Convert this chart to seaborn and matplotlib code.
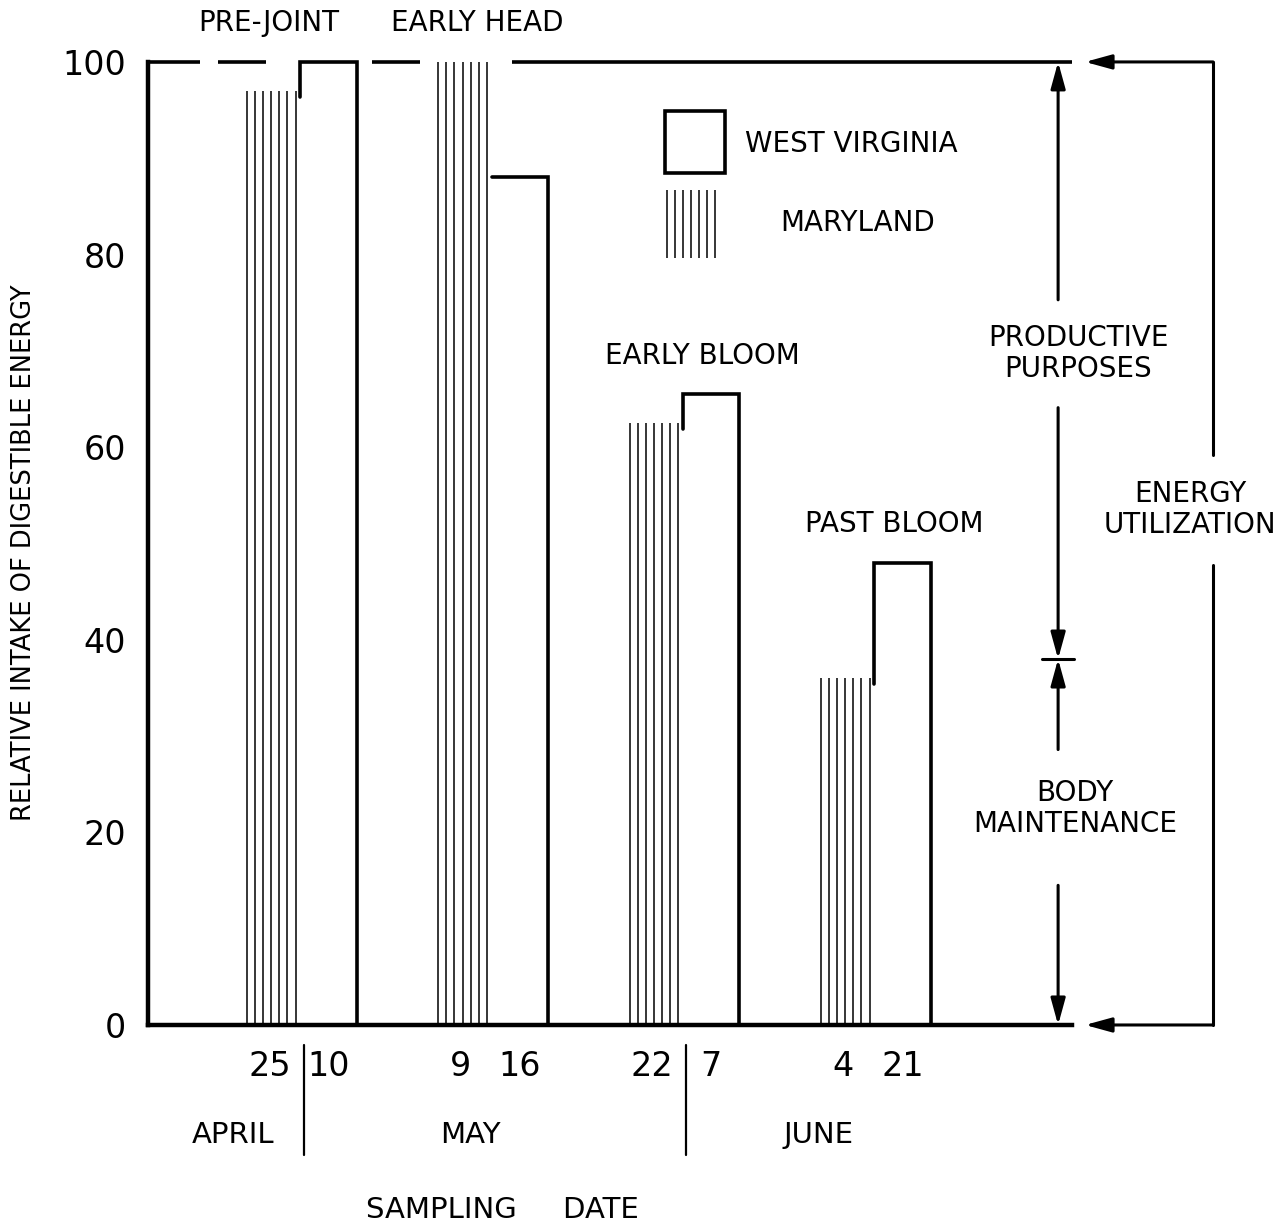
import numpy as np
import pandas as pd
import matplotlib
matplotlib.use("Agg")
import matplotlib.pyplot as plt
from matplotlib.patches import Rectangle
import seaborn as sns

# Values (relative intake of digestible energy)
stages = ["PRE-JOINT", "EARLY HEAD", "EARLY BLOOM", "PAST BLOOM"]
maryland = [97, 100, 62.5, 36]
west_virginia = [100, 88, 65.5, 48]
date_labels = ["25", "10", "9", "16", "22", "7", "4", "21"]  # MD, WV for each stage
months = ["APRIL", "MAY", "JUNE"]
maintenance_level = 38

df = pd.DataFrame({
    "stage": stages * 2,
    "state": ["Maryland"] * len(stages) + ["West Virginia"] * len(stages),
    "value": maryland + west_virginia,
})

sns.set_style("white")
plt.rcParams["font.family"] = ["DejaVu Sans"]
for key in ["text.color", "axes.labelcolor", "xtick.color", "ytick.color"]:
    plt.rcParams[key] = "black"

fig = plt.figure(figsize=(12.85, 12.24), dpi=100)
ax = fig.add_axes([0.1152, 0.1626, 0.7191, 0.7868])

sns.barplot(data=df, x="stage", y="value", hue="state", order=stages,
            hue_order=["Maryland", "West Virginia"], palette=["white", "white"],
            width=0.62, gap=0.05, errorbar=None, legend=False, ax=ax)

ax.set_xlim(-0.789, 4.041)
ax.set_ylim(0, 100)

md_bars, wv_bars = ax.containers[0], ax.containers[1]
centers = []
for p_md, p_wv in zip(md_bars, wv_bars):
    # Maryland: vertical line shading
    x0, w, h = p_md.get_x(), p_md.get_width(), p_md.get_height()
    p_md.set_visible(False)
    ax.vlines(np.linspace(x0 + 0.03, x0 + w - 0.01, 7), 0, h, color="black",
              lw=1.1, clip_on=False)
    # West Virginia: open bar, left side only where it rises above Maryland
    x1, w1, h1 = p_wv.get_x(), p_wv.get_width(), p_wv.get_height()
    p_wv.set_visible(False)
    start = h - 0.6 if h1 > h else h1
    ax.plot([x1, x1, x1 + w1, x1 + w1], [start, h1, h1, 0], color="black",
            lw=2.6, solid_joinstyle="miter", clip_on=False)
    centers += [x0 + w / 2, x1 + w1 / 2]

# frame: left and bottom axes, broken line along the top
for side in ["top", "right"]:
    ax.spines[side].set_visible(False)
for side in ["left", "bottom"]:
    ax.spines[side].set_linewidth(3.2)
    ax.spines[side].set_color("black")
top_pieces = [(-0.789, -0.517), (-0.423, -0.172), (0.382, 0.633), (1.113, 4.041)]
for a, b in top_pieces:
    ax.plot([a, b], [100, 100], color="black", lw=2.6, clip_on=False,
            solid_capstyle="butt")

ax.set_yticks([0, 20, 40, 60, 80, 100])
ax.tick_params(axis="y", direction="in", length=22, width=3, labelsize=24, pad=16)
ax.set_xticks(centers, labels=date_labels)
ax.tick_params(axis="x", length=0, labelsize=24, pad=18)
ax.set_xlabel("")
ax.set_ylabel("RELATIVE INTAKE OF DIGESTIBLE ENERGY", fontsize=18.5)
ax.yaxis.set_label_coords(-0.120, 0.49)

# stage names over the bars
stage_dx = [-0.16, -0.07, 0.11, 0.11]
for i, name in enumerate(stages):
    ax.text(i + stage_dx[i], max(maryland[i], west_virginia[i]) + 4, name,
            ha="center", va="center", fontsize=20)

# legend
ax.add_patch(Rectangle((1.913, 88.5), 0.314, 6.4, fill=False, lw=2.6,
                       edgecolor="black", clip_on=False))
ax.vlines(np.linspace(1.924, 2.175, 7), 79.6, 86.7, color="black", lw=1.1)
ax.text(2.331, 91.5, "WEST VIRGINIA", ha="left", va="center", fontsize=20)
ax.text(2.514, 83.3, "MARYLAND", ha="left", va="center", fontsize=20)

# months and date dividers
for xm, name in zip([-0.345, 0.894, 2.713], months):
    ax.text(xm, -11.4, name, ha="center", va="center", fontsize=21)
for xd in [0.026, 2.023]:
    ax.plot([xd, xd], [-2.1, -13.5], color="black", lw=1.6, clip_on=False)
fig.text(0.3907, 0.0114, "SAMPLING     DATE", ha="center", va="center", fontsize=21)

# energy utilization annotation on the right
def arrow(x0, y0, x1, y1):
    ax.annotate("", xy=(x1, y1), xytext=(x0, y0), annotation_clip=False,
                arrowprops=dict(arrowstyle="-|>,head_length=0.8,head_width=0.22",
                                color="black", lw=2.2, shrinkA=0, shrinkB=0,
                                mutation_scale=20))

xa = 3.968
arrow(xa, 75.3, xa, 100)
arrow(xa, 64.1, xa, maintenance_level)
arrow(xa, 28.6, xa, maintenance_level)
arrow(xa, 14.5, xa, 0)
ax.plot([3.884, 4.051], [maintenance_level, maintenance_level], color="black",
        lw=2.2, clip_on=False)
ax.text(4.072, 69.7, "PRODUCTIVE\nPURPOSES", ha="center", va="center",
        fontsize=20, linespacing=1.15)
ax.text(4.056, 22.5, "BODY\nMAINTENANCE", ha="center", va="center",
        fontsize=20, linespacing=1.15)

xb = 4.778
arrow(xb, 100, 4.109, 100)
arrow(xb, 0, 4.109, 0)
ax.plot([xb, xb], [100, 59.2], color="black", lw=2.2, clip_on=False)
ax.plot([xb, xb], [47.8, 0], color="black", lw=2.2, clip_on=False)
ax.text(4.657, 53.5, "ENERGY\nUTILIZATION", ha="center", va="center",
        fontsize=20, linespacing=1.15)

fig.savefig("out.png", dpi=100)
